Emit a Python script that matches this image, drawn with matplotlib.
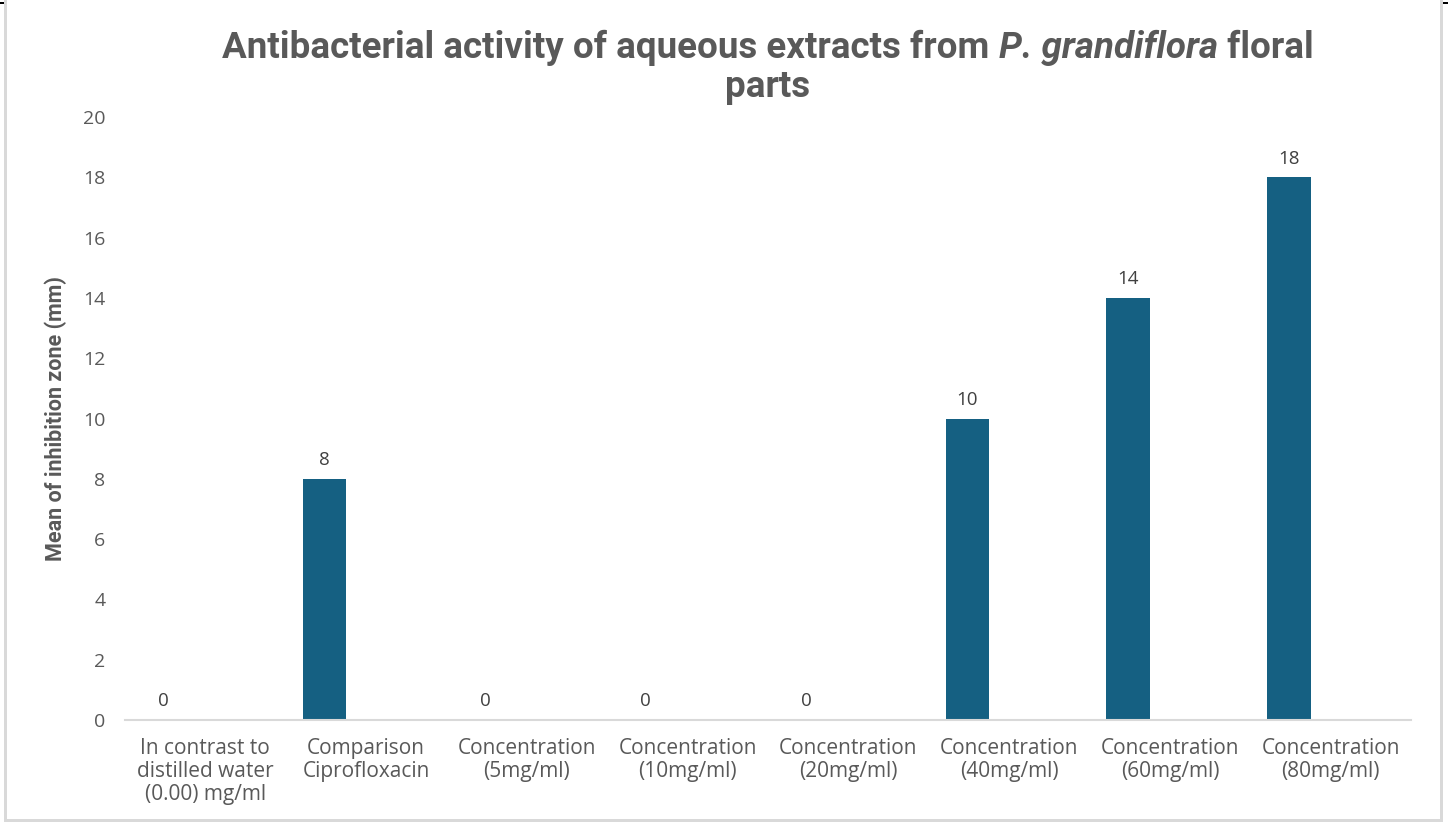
import matplotlib
matplotlib.use("Agg")
import matplotlib.pyplot as plt
from matplotlib.patches import Rectangle
import numpy as np

categories = [
    "In contrast to\ndistilled water\n(0.00) mg/ml",
    "Comparison\nCiprofloxacin",
    "Concentration\n(5mg/ml)",
    "Concentration\n(10mg/ml)",
    "Concentration\n(20mg/ml)",
    "Concentration\n(40mg/ml)",
    "Concentration\n(60mg/ml)",
    "Concentration\n(80mg/ml)",
]
inhibition_mm = [0, 8, 0, 0, 0, 10, 14, 18]
y_ticks = [0, 2, 4, 6, 8, 10, 12, 14, 16, 18, 20]
title_parts = [("Antibacterial activity of aqueous extracts from ", "normal"),
               ("P. grandiflora", "italic"),
               (" floral", "normal")]

BAR_COLOR = "#156082"
TEXT_COLOR = "#595959"
AXIS_COLOR = "#d9d9d9"

plt.rcParams["font.family"] = ["Open Sans", "DejaVu Sans"]

W, H = 1448, 823
fig = plt.figure(figsize=(W / 100, H / 100), dpi=100)

# axes placed in pixel coordinates
left, right, bottom, top = 125, 1411, 720, 117
ax = fig.add_axes([left / W, 1 - bottom / H, (right - left) / W, (bottom - top) / H])

x = np.arange(len(categories))
offset = -0.26
width = 0.27
ax.bar(x + offset, inhibition_mm, width=width, color=BAR_COLOR, zorder=2)

for xi, v in zip(x, inhibition_mm):
    ax.annotate(f"{v}", (xi + offset, v), xytext=(0, 7), textcoords="offset points",
                ha="center", va="bottom", fontsize=13.5, color="#404040")

ax.set_xlim(-0.5, len(categories) - 0.5)
ax.set_ylim(0, 20)
ax.set_yticks(y_ticks)
ax.set_yticklabels([str(t) for t in y_ticks], fontsize=14, color=TEXT_COLOR)
ax.set_xticks(x)
ax.set_xticklabels(categories, fontsize=15, color=TEXT_COLOR, linespacing=1.12)
ax.tick_params(axis="both", length=0)
ax.tick_params(axis="y", pad=14)
ax.tick_params(axis="x", pad=13)

for side in ("top", "right", "left"):
    ax.spines[side].set_visible(False)
ax.spines["bottom"].set_color(AXIS_COLOR)
ax.spines["bottom"].set_linewidth(1.5)

ax.set_ylabel("Mean of inhibition zone (mm)", fontsize=15.5, fontweight="bold",
              color=TEXT_COLOR, family=["Roboto", "DejaVu Sans"])
ax.yaxis.set_label_coords((56 - left) / (right - left), 0.5)
ax.yaxis.label.set_va("center")

# title: first line with an italic species name, laid out piece by piece
title_kw = dict(fontsize=26.5, fontweight="bold", color=TEXT_COLOR,
                family=["Roboto", "DejaVu Sans"], va="center")
fig.canvas.draw()
renderer = fig.canvas.get_renderer()
pieces = [fig.text(0, 1 - 48 / H, s, style=st, ha="left", **title_kw) for s, st in title_parts]
widths = [p.get_window_extent(renderer).width for p in pieces]
x0 = 768 - sum(widths) / 2
for p, w in zip(pieces, widths):
    p.set_x(x0 / W)
    x0 += w
fig.text(768 / W, 1 - 87 / H, "parts", ha="center", **title_kw)

# outer chart frame
for (fx, fy, fw, fh, c) in [(4, 0, 3, 822, AXIS_COLOR), (1440, 0, 3, 822, AXIS_COLOR),
                            (4, 819, 1439, 3, AXIS_COLOR),
                            (0, 2, 4, 2, "black"), (1443, 2, 5, 2, "black")]:
    fig.patches.append(Rectangle((fx / W, 1 - (fy + fh) / H), fw / W, fh / H,
                                 transform=fig.transFigure, color=c, lw=0))

fig.savefig("out.png", dpi=100, facecolor="white")
